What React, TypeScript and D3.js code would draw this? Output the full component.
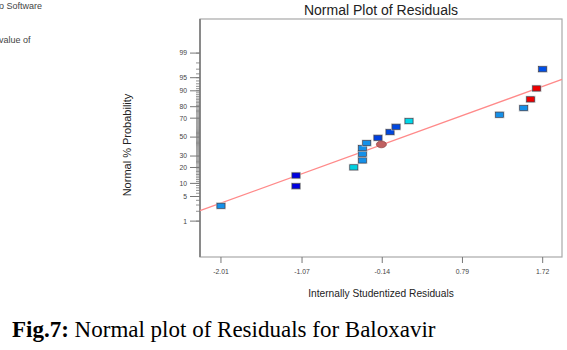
import React from 'react';
import * as d3 from 'd3';

// Internally studentized residuals, sorted, with their normal % probability
const residuals = [-2.01, -1.14, -1.14, -0.47, -0.37, -0.37, -0.37, -0.32, -0.19, -0.05, 0.02, 0.17, 1.22, 1.5, 1.58, 1.65, 1.72];
const probabilities = [2.85, 8.7, 14.4, 20.1, 25.9, 32.2, 38.0, 43.4, 49.2, 55.5, 61.2, 67.1, 73.2, 78.9, 85.2, 91.1, 97.0];
const pointColors = [
  '#1590e8', '#0000e0', '#0000e0', '#00d0e0', '#1590e8', '#1590e8', '#1590e8', '#1590e8',
  '#0040e0', '#0048e0', '#0048e0', '#00d8e8', '#1590e8', '#1590e8', '#ee0000', '#ee0000', '#0050e8',
];
// Selected run, drawn as a circle
const selectedResidual = -0.15;
const selectedProbability = 42.0;

const xTickValues = [-2.01, -1.07, -0.14, 0.79, 1.72];
const yTickValues = [1, 5, 10, 20, 30, 50, 70, 80, 90, 95, 99];
const yMinorValues = d3.range(1, 100);

// Normal reference line (mean and spread of the residuals)
const fitMean = 0.1;
const fitSd = 1.155;

// Inverse standard normal CDF (Acklam's rational approximation)
function probit(p: number): number {
  const a = [-3.969683028665376e1, 2.209460984245205e2, -2.759285104469687e2, 1.38357751867269e2, -3.066479806614716e1, 2.506628277459239];
  const b = [-5.447609879822406e1, 1.615858368580409e2, -1.556989798598866e2, 6.680131188771972e1, -1.328068155288572e1];
  const c = [-7.784894002430293e-3, -3.223964580411365e-1, -2.400758277161838, -2.549732539343734, 4.374664141464968, 2.938163982698783];
  const d = [7.784695709041462e-3, 3.224671290700398e-1, 2.445134137142996, 3.754408661907416];
  const pLow = 0.02425;
  if (p < pLow) {
    const q = Math.sqrt(-2 * Math.log(p));
    return (((((c[0] * q + c[1]) * q + c[2]) * q + c[3]) * q + c[4]) * q + c[5]) / ((((d[0] * q + d[1]) * q + d[2]) * q + d[3]) * q + 1);
  }
  if (p > 1 - pLow) {
    const q = Math.sqrt(-2 * Math.log(1 - p));
    return -(((((c[0] * q + c[1]) * q + c[2]) * q + c[3]) * q + c[4]) * q + c[5]) / ((((d[0] * q + d[1]) * q + d[2]) * q + d[3]) * q + 1);
  }
  const q = p - 0.5;
  const r = q * q;
  return ((((((a[0] * r + a[1]) * r + a[2]) * r + a[3]) * r + a[4]) * r + a[5]) * q) / (((((b[0] * r + b[1]) * r + b[2]) * r + b[3]) * r + b[4]) * r + 1);
}

const W = 567;
const H = 350;
const left = 200;
const right = 562;
const top = 19;
const bottom = 257;

const x = d3.scaleLinear().domain([-2.253, 1.944]).range([left, right]);
const z = d3.scaleLinear().domain([-3.32, 3.27]).range([bottom, top]);
const yOfPct = (pct: number) => z(probit(pct / 100));

const sans = "'Liberation Sans', Arial, sans-serif";

export default function App() {
  const lineData: [number, number][] = x.domain().map((v) => [v, (v - fitMean) / fitSd]);
  const fitLine = d3
    .line<[number, number]>()
    .x((d) => x(d[0]))
    .y((d) => z(d[1]))(lineData);

  return (
    <svg width={W} height={H} style={{ position: 'absolute', left: 0, top: 0, background: '#fff' }} fontFamily={sans}>
      <rect width={W} height={H} fill="#fff" />
      {/* partly cropped header text */}
      <text x={-1} y={9} fontSize={9} fill="#444">o Software</text>
      <text x={-1} y={43} fontSize={9} fill="#444">value of</text>

      <text x={(left + right) / 2} y={15} textAnchor="middle" fontSize={14} fill="#222">
        Normal Plot of Residuals
      </text>

      {/* frame */}
      <rect x={left} y={top} width={right - left} height={bottom - top} fill="none" stroke="#a8a8a8" strokeWidth={1.2} />
      <line x1={left} x2={left} y1={top} y2={bottom} stroke="#8a8a8a" strokeWidth={2} />

      {/* y axis minor ticks */}
      {yMinorValues.map((v) => (
        <line key={'m' + v} x1={left - 4} x2={left} y1={yOfPct(v)} y2={yOfPct(v)} stroke="#777" strokeWidth={0.8} />
      ))}
      {yTickValues.map((v) => (
        <g key={'y' + v}>
          <line x1={left - 10} x2={left} y1={yOfPct(v)} y2={yOfPct(v)} stroke="#777" strokeWidth={1} />
          <text x={187} y={yOfPct(v) + 2.4} textAnchor="end" fontSize={6.8} fill="#444">
            {v}
          </text>
        </g>
      ))}

      {/* x axis ticks */}
      {xTickValues.map((v) => (
        <g key={'x' + v}>
          <line x1={x(v)} x2={x(v)} y1={bottom} y2={bottom + 6} stroke="#777" strokeWidth={1} />
          <text x={x(v)} y={273.5} textAnchor="middle" fontSize={6.8} fill="#444">
            {v.toFixed(2)}
          </text>
        </g>
      ))}

      <text x={(left + right) / 2} y={297} textAnchor="middle" fontSize={10.2} fill="#222">
        Internally Studentized Residuals
      </text>
      <text transform="translate(131,145) rotate(-90)" textAnchor="middle" fontSize={11} fill="#222">
        Normal % Probability
      </text>

      {/* normal reference line */}
      <path d={fitLine ?? ''} stroke="#ff8a8a" strokeWidth={1.3} fill="none" />

      {/* residual points */}
      {residuals.map((r, i) => {
        const cx = x(r);
        const cy = yOfPct(probabilities[i]);
        return (
          <g key={'p' + i}>
            <rect x={cx - 5} y={cy - 3.6} width={10} height={7.2} fill="#c4c4c4" opacity={0.8} />
            <rect x={cx - 4} y={cy - 2.6} width={8} height={5.2} fill={pointColors[i]} stroke="#3a3a4a" strokeWidth={0.6} />
          </g>
        );
      })}
      <ellipse cx={x(selectedResidual)} cy={yOfPct(selectedProbability)} rx={5} ry={3.4} fill="#c06060" stroke="#8a4040" strokeWidth={0.7} />

      {/* caption */}
      <text x={12} y={337} fontFamily="'Liberation Serif', 'Times New Roman', serif" fontSize={23} fill="#000">
        <tspan fontWeight="bold">Fig.7:</tspan>
        <tspan> Normal plot of Residuals for Baloxavir</tspan>
      </text>
    </svg>
  );
}
